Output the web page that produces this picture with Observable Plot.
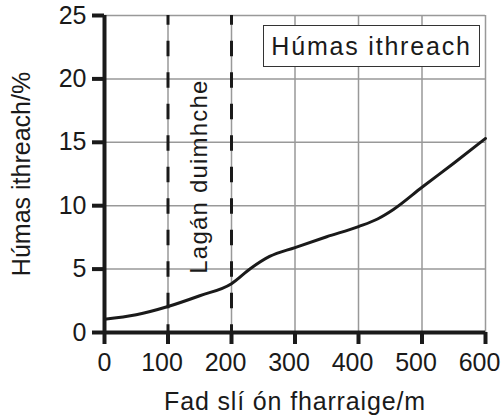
<!DOCTYPE html>
<html><head><meta charset="utf-8">
<script src="https://cdn.jsdelivr.net/npm/d3@7"></script>
<script src="https://cdn.jsdelivr.net/npm/@observablehq/plot@0.6"></script>
<style>
body{margin:0;background:#fff;}
#wrap{position:relative;width:503px;height:419px;font-family:"Liberation Sans",Arial,sans-serif;}
#legend{position:absolute;left:263px;top:25px;width:215px;height:40px;border:1.3px solid #333;background:#fff;font-size:25px;line-height:40px;text-align:center;color:#1a1a1a;letter-spacing:1.8px;box-sizing:content-box;}
</style></head><body>
<div id="wrap"></div>
<script>
const distance = [0, 50, 100, 150, 200, 230, 260, 300, 350, 400, 430, 455, 500, 550, 600];
const humus    = [1.05, 1.4, 2.05, 2.9, 3.85, 5.05, 6.0, 6.7, 7.55, 8.35, 8.95, 9.7, 11.45, 13.35, 15.3];
const xTicks = [0, 100, 200, 300, 400, 500, 600];
const yTicks = [0, 5, 10, 15, 20, 25];
const duneBounds = [100, 200];
const zoneLabels = [{x: 150, y: 12.3, text: "Lagán duimhche"}];
const seriesName = "Húmas ithreach";
const xTitle = "Fad slí ón fharraige/m";
const yTitle = "Húmas ithreach/%";

const rows = distance.map((d, i) => ({x: d, y: humus[i]}));
const ink = "#1a1a1a";
const plot = Plot.plot({
  width: 503, height: 419,
  marginLeft: 104, marginRight: 18, marginTop: 15, marginBottom: 87,
  style: {fontFamily: "Liberation Sans, Arial, sans-serif", fontSize: "24px", background: "transparent", color: ink},
  x: {domain: [0, 600]},
  y: {domain: [0, 25]},
  marks: [
    Plot.gridX(xTicks, {stroke: "#999", strokeOpacity: 1, strokeWidth: 1.5}),
    Plot.gridY(yTicks, {stroke: "#999", strokeOpacity: 1, strokeWidth: 1.5}),
    Plot.ruleX(duneBounds, {y1: 0, y2: 25, stroke: ink, strokeWidth: 3, strokeDasharray: "15.5,16", strokeDashoffset: 7.75}),
    Plot.line(rows, {x: "x", y: "y", curve: "monotone-x", stroke: ink, strokeWidth: 3}),
    Plot.text(zoneLabels, {x: "x", y: "y", text: "text", rotate: -90, fontSize: 24, fill: ink}),
    Plot.ruleX([0], {stroke: ink, strokeWidth: 4}),
    Plot.ruleY([0], {stroke: ink, strokeWidth: 4}),
    Plot.axisX(xTicks, {tickSize: 12, strokeWidth: 4, tickFormat: () => "", label: null}),
    Plot.axisX([0], {tickSize: 0, tickPadding: 21, fontSize: 25, label: null}),
    Plot.axisX(xTicks.slice(1), {tickSize: 0, tickPadding: 21, dx: -6, fontSize: 25, label: xTitle, labelAnchor: "center", labelArrow: "none", labelOffset: 77}),
    Plot.axisY(yTicks, {tickSize: 12, strokeWidth: 4, tickPadding: 6, fontSize: 25, label: yTitle, labelAnchor: "center", labelArrow: "none", labelOffset: 92})
  ]
});
d3.select(plot).selectAll('g[aria-label="x-axis label"] text').style("letter-spacing", "0.85px");
d3.select(plot).selectAll('g[aria-label="text"] text').style("letter-spacing", "1.2px");
const wrap = document.getElementById("wrap");
wrap.appendChild(plot);
const legend = document.createElement("div");
legend.id = "legend";
legend.textContent = seriesName;
wrap.appendChild(legend);
</script>
</body></html>
